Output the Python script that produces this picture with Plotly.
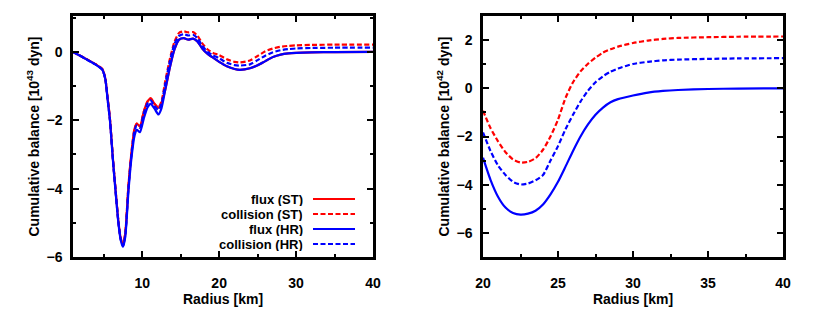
import plotly.graph_objects as go

# left panel: radius [km] and cumulative balance [10^43 dyn]
r_left = [1, 2, 3, 4, 4.8, 5.2, 5.5, 5.8, 6.2, 6.5, 6.9, 7.2, 7.5, 7.8, 8.2, 8.6, 9.0, 9.3, 9.7,
          10.2, 10.7, 11.1, 11.6, 12.1, 12.5, 13.0, 13.6, 14.2, 14.8, 15.4, 16.0, 16.6, 17.2, 17.8,
          18.5, 19.2, 20, 21, 22, 22.7, 24, 25, 26, 27, 28, 29, 30, 32, 35, 40]
flux_st = [0, -0.12, -0.24, -0.37, -0.5, -0.78, -1.35, -1.95, -3.15, -3.95, -4.95, -5.45, -5.65, -5.3,
           -3.95, -2.95, -2.25, -2.1, -2.18, -1.75, -1.45, -1.36, -1.52, -1.63, -1.5, -1.1, -0.45,
           0.08, 0.36, 0.4, 0.36, 0.39, 0.3, 0.1, -0.06, -0.17, -0.29, -0.42, -0.5, -0.524, -0.48,
           -0.39, -0.27, -0.15, -0.08, -0.045, -0.028, -0.012, -0.004, 0]
coll_st = [0, -0.12, -0.24, -0.37, -0.5, -0.78, -1.35, -1.95, -3.15, -3.95, -4.95, -5.45, -5.65, -5.3,
           -3.95, -2.95, -2.25, -2.1, -2.18, -1.75, -1.45, -1.36, -1.52, -1.63, -1.45, -0.85, -0.2,
           0.3, 0.56, 0.6, 0.57, 0.58, 0.47, 0.25, 0.07, -0.03, -0.093, -0.215, -0.29, -0.31, -0.25,
           -0.12, 0.02, 0.1, 0.15, 0.175, 0.19, 0.205, 0.212, 0.215]
flux_hr = [0, -0.12, -0.25, -0.38, -0.52, -0.8, -1.4, -2.0, -3.2, -4.0, -5.0, -5.5, -5.7, -5.4,
           -4.1, -3.1, -2.45, -2.28, -2.35, -1.95, -1.62, -1.52, -1.66, -1.83, -1.65, -1.1, -0.45,
           0.08, 0.36, 0.4, 0.36, 0.39, 0.3, 0.1, -0.06, -0.17, -0.29, -0.42, -0.5, -0.524, -0.48,
           -0.39, -0.27, -0.15, -0.08, -0.045, -0.028, -0.012, -0.004, 0]
coll_hr = [0, -0.12, -0.25, -0.38, -0.51, -0.79, -1.38, -1.98, -3.18, -3.98, -4.98, -5.48, -5.68, -5.35,
           -4.0, -3.0, -2.3, -2.15, -2.22, -1.8, -1.5, -1.42, -1.58, -1.7, -1.52, -0.92, -0.27,
           0.24, 0.47, 0.52, 0.48, 0.5, 0.4, 0.18, 0.0, -0.1, -0.183, -0.32, -0.385, -0.4, -0.364,
           -0.24, -0.11, -0.01, 0.05, 0.08, 0.1, 0.115, 0.122, 0.125]

# right panel: radius [km] and cumulative balance [10^42 dyn]
r_right = [20, 20.5, 21, 21.5, 22, 22.5, 23, 23.5, 24, 24.5, 25, 25.5, 26, 26.5, 27, 27.5, 28, 28.5,
           29, 30, 31, 32, 33, 35, 37, 40]
flux_hr_r = [-2.88, -3.8, -4.5, -4.95, -5.17, -5.24, -5.2, -5.08, -4.82, -4.4, -3.88, -3.25, -2.6,
             -2.0, -1.5, -1.1, -0.8, -0.58, -0.45, -0.3, -0.18, -0.11, -0.07, -0.03, -0.01, 0]
coll_st_r = [-0.93, -1.65, -2.2, -2.65, -2.95, -3.08, -3.05, -2.9, -2.55, -2.0, -1.3, -0.4, 0.25,
             0.7, 1.02, 1.27, 1.48, 1.62, 1.73, 1.88, 1.98, 2.05, 2.09, 2.12, 2.14, 2.15]
coll_hr_r = [-1.83, -2.6, -3.2, -3.6, -3.88, -3.99, -3.95, -3.82, -3.6, -3.0, -2.4, -1.7, -1.1,
             -0.55, -0.1, 0.25, 0.5, 0.69, 0.82, 1.01, 1.1, 1.16, 1.19, 1.22, 1.24, 1.25]

RED = 'rgb(255,0,0)'
BLUE = 'rgb(0,0,255)'
DASH = '5px,2.5px'
FONT = 'Liberation Sans'
OFF = 8  # the page body adds 8px around the figure

fig = go.Figure()

left = [(flux_st, RED, 'solid', 'flux (ST)'),
        (coll_st, RED, DASH, 'collision (ST)'),
        (flux_hr, BLUE, 'solid', 'flux (HR)'),
        (coll_hr, BLUE, DASH, 'collision (HR)')]
for ys, col, dash, name in left:
    fig.add_trace(go.Scatter(x=r_left, y=ys, mode='lines', name=name,
                             line=dict(color=col, width=2.2, dash=dash, shape='spline', smoothing=0.6),
                             xaxis='x', yaxis='y', showlegend=False))

right = [(coll_st_r, RED, DASH),
         (flux_hr_r, BLUE, 'solid'),
         (coll_hr_r, BLUE, DASH)]
for ys, col, dash in right:
    fig.add_trace(go.Scatter(x=r_right, y=ys, mode='lines',
                             line=dict(color=col, width=2.2, dash=dash, shape='spline', smoothing=0.6),
                             xaxis='x2', yaxis='y2', showlegend=False))

tickfont = dict(family=FONT, size=14, color='black', weight='bold')
titlefont = dict(family=FONT, size=14, color='black', weight='bold')


def ax(domain, rng, dtick, minor, title, anchor, standoff, labgap):
    return dict(domain=domain, range=rng, dtick=dtick, tick0=0, anchor=anchor,
                showline=True, linecolor='black', linewidth=2.5, mirror='allticks',
                ticks='inside', ticklen=6, tickwidth=1.5, tickcolor='black',
                minor=dict(dtick=minor, tick0=0, ticks='inside', ticklen=3, tickwidth=1.5,
                           tickcolor='black'),
                showgrid=False, zeroline=False, tickfont=tickfont,
                title=dict(text=title, font=titlefont, standoff=standoff),
                ticklabelstandoff=labgap, automargin=False)


W, H = 830, 320
layout = dict(
    width=W, height=H,
    margin=dict(l=0, r=0, t=16 - OFF, b=H - 257 + OFF),
    plot_bgcolor='white', paper_bgcolor='white',
    xaxis=ax([(73 - OFF) / W, (373 - OFF) / W], [1, 40], 10, 5, 'Radius [km]', 'y', 0, 11),
    yaxis=ax([0, 1], [-6, 1.05], 2, 1, 'Cumulative balance [10<sup>43</sup> dyn]', 'x', 4, 5),
    xaxis2=ax([(483 - OFF) / W, (783 - OFF) / W], [20, 40], 5, 2.5, 'Radius [km]', 'y2', 0, 11),
    yaxis2=ax([0, 1], [-7, 3], 2, 1, 'Cumulative balance [10<sup>42</sup> dyn]', 'x2', 4, 5),
)

# legend drawn by hand: text right-aligned, sample line to its right
annotations = []
shapes = []
rows_py = [199, 214, 229, 244]
for (ys, col, dash, name), py in zip(left, rows_py):
    yp = (257 - py) / 241
    annotations.append(dict(x=(304 - OFF) / W, y=yp, xref='paper', yref='paper', text=name,
                            showarrow=False, xanchor='right', yanchor='middle',
                            height=13, borderpad=0,
                            font=dict(family=FONT, size=13, color='black', weight='bold')))
    shapes.append(dict(type='line', xref='paper', yref='paper',
                       x0=(313 - OFF) / W, x1=(355 - OFF) / W, y0=yp, y1=yp,
                       line=dict(color=col, width=2.2, dash='solid' if dash == 'solid' else DASH)))

fig.update_layout(layout, annotations=annotations, shapes=shapes)
fig.write_html("out.html")
